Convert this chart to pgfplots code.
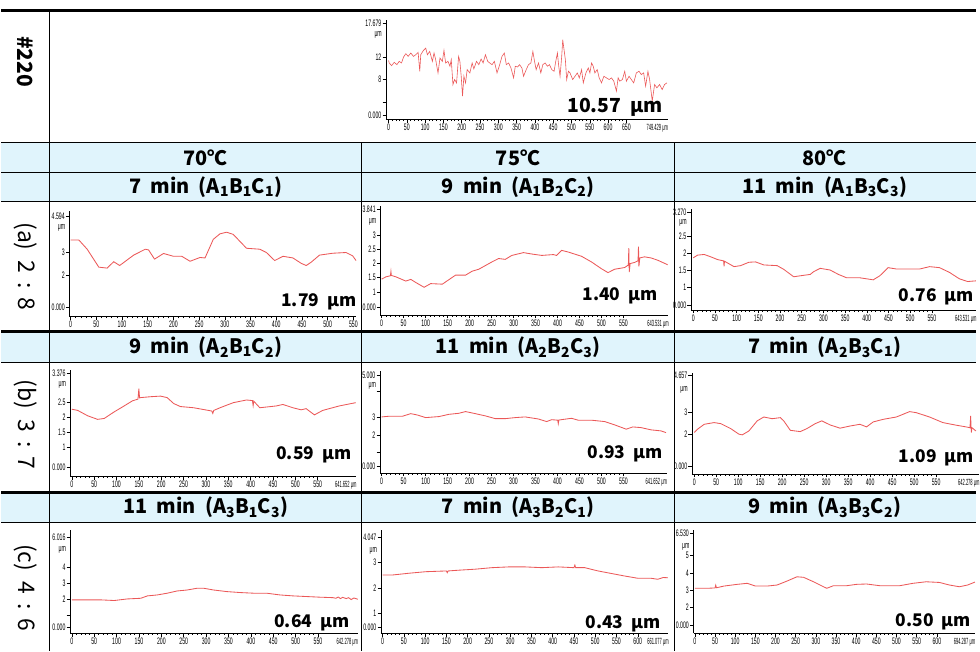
\documentclass[border=0pt]{standalone}
\usepackage{fontspec}
\usepackage{pgfplots}
\pgfplotsset{compat=1.18}
\setmainfont{Noto Sans CJK KR}
\newfontfamily\tickfont[FakeStretch=0.55]{Liberation Sans}
\newfontfamily\endfont[FakeStretch=0.45]{Liberation Sans}
\newcommand\tk{\tickfont\fontsize{9.5}{10}\selectfont}
\newcommand\tke{\endfont\fontsize{9}{10}\selectfont}
\definecolor{hdr}{RGB}{224,244,252}
\definecolor{profred}{RGB}{235,88,88}

\pgfplotsset{
  prof/.style={
    scale only axis, anchor=south west, clip=false,
    axis x line=bottom, axis y line=left,
    axis line style={-, line width=0.6pt, black},
    tick align=outside, major tick length=3.5pt, minor tick length=1.8pt,
    minor x tick num=4, minor y tick num=4,
    tick style={black, line width=0.5pt},
    ticklabel style={font=\tk, inner sep=1pt},
    /pgf/number format/assume math mode=true,
    /pgf/number format/1000 sep={},
  },
  pline/.style={profred, line width=0.85pt, mark=none},
}
\tikzset{
  um/.style={anchor=east, font=\tk, inner sep=1pt, xshift=-3pt},
  xend/.style={anchor=north east, font=\tke, inner sep=0.5pt, yshift=-4.5pt, xshift=1pt},
  val/.style={anchor=east, font=\bfseries\fontsize{17.5}{18}\selectfont, inner sep=0pt},
  hd/.style={font=\bfseries\fontsize{20}{22}\selectfont, inner sep=0pt},
  rl/.style={font=\fontsize{23}{25}\selectfont, inner sep=0pt, rotate=-90},
}
\newcommand\code[3]{(A\textsubscript{#1}B\textsubscript{#2}C\textsubscript{#3})}

\begin{document}
\begin{tikzpicture}
\begin{scope}[x=1pt, y=-1pt]
  \useasboundingbox (0,0) rectangle (980,655);
  \fill[hdr] (0,143.5) rectangle (980,203);
  \fill[hdr] (0,333.5) rectangle (980,364.5);
  \fill[hdr] (0,495.5) rectangle (980,525);
\end{scope}

% #220
\begin{axis}[prof, at={(386.7pt,-120pt)}, width=283.3pt, height=100pt,
  xmin=-7, xmax=763, ymin=0.98, ymax=18.53,
  xtick={0,50,...,650},
  ytick={1.65,4,8,12,17.95}, yticklabels={0.000,,8,12,17.679}]
\addplot[pline, line width=0.6pt] coordinates {(0,11.39) (1.9,10.92) (8.3,10.45) (15.5,11.04) (22.8,10.63) (29.1,11.21) (35.4,10.92) (40.9,11.97) (47.2,12.56) (53.6,12.09) (60.8,12.68) (68.1,12.09) (74.4,12.38) (80.8,12.79) (85.3,9.46) (88.0,12.38) (95.3,13.14) (101.6,13.55) (106.2,12.38) (112.5,12.97) (119.8,11.21) (124.3,12.68) (128.8,11.51) (135.2,9.17) (140.6,11.80) (147.0,11.21) (151.5,13.14) (156.0,10.92) (162.4,11.21) (167.8,10.34) (171.4,11.51) (176.0,7.12) (180.5,8.00) (185.9,7.41) (191.4,12.09) (195.0,11.21) (198.6,8.58) (202.2,5.07) (205.9,8.58) (210.4,7.41) (214.9,9.75) (222.2,9.17) (228.5,10.92) (233.1,9.87) (240.3,11.21) (246.7,10.63) (253.0,11.62) (258.4,10.92) (264.8,12.38) (271.1,11.21) (276.6,10.92) (282.9,10.63) (289.3,11.21) (296.5,9.17) (303.8,10.63) (310.1,12.09) (316.5,12.68) (321.9,10.63) (328.2,10.92) (334.6,10.04) (341.8,8.29) (346.4,10.34) (352.7,10.22) (358.2,10.63) (364.5,10.04) (369.0,8.58) (376.3,9.75) (382.6,10.63) (389.0,10.92) (394.5,12.97) (399.0,11.21) (403.5,9.75) (409.9,10.92) (416.2,9.17) (421.7,10.63) (428.0,10.92) (434.4,10.34) (439.8,10.63) (446.2,9.75) (452.5,9.46) (457.0,11.21) (461.6,12.68) (465.2,10.34) (468.8,8.58) (473.3,12.09) (476.1,15.02) (479.7,13.26) (483.3,11.51) (486.9,8.00) (491.5,9.46) (496.0,9.17) (503.3,8.00) (509.6,8.58) (516.0,9.17) (521.4,8.29) (527.7,9.75) (532.3,7.41) (539.5,9.17) (545.9,10.04) (550.4,9.17) (554.9,10.92) (559.5,10.34) (564.0,9.17) (570.3,9.75) (575.8,8.29) (582.1,7.41) (588.5,8.58) (595.7,8.29) (603.0,8.00) (609.3,8.29) (615.7,7.71) (622.9,5.95) (627.5,8.29) (632.0,7.71) (639.2,8.00) (645.6,9.46) (650.1,7.71) (657.4,8.58) (663.7,8.00) (670.1,7.41) (677.3,9.17) (684.6,9.46) (690.9,8.88) (697.3,9.17) (702.7,6.83) (709.0,9.46) (713.6,8.00) (720.8,4.20) (727.2,7.12) (733.5,6.54) (740.8,7.12) (748.0,6.24) (754.4,7.12) (760.7,7.41)};
\node[um] at (rel axis cs:0,0.85) {μm};
\node[xend] at (rel axis cs:1,0) {749.429 μm};
\end{axis}

% row a
\begin{axis}[prof, at={(68.3pt,-318.3pt)}, width=288.4pt, height=106.6pt,
  xmin=-2.3, xmax=555.5, ymin=0.26, ymax=4.75,
  xtick={0,50,...,550},
  ytick={0.64,2,3,4.5}, yticklabels={0.000,2,3,4.594}]
\addplot[pline] coordinates {(0,3.50) (16.1,3.50) (32.3,3.11) (54.9,2.35) (71.0,2.31) (83.9,2.58) (95.5,2.42) (122.7,2.86) (145.3,3.11) (151.7,3.08) (163.3,2.69) (180.8,2.93) (200.1,2.81) (216.3,2.81) (232.4,2.60) (251.8,2.76) (261.5,2.74) (277.6,3.53) (290.5,3.76) (303.4,3.83) (316.3,3.74) (342.2,3.15) (368.0,3.11) (380.9,2.97) (397.0,2.63) (413.2,2.81) (432.5,2.74) (448.7,2.51) (458.4,2.42) (468.0,2.56) (484.2,2.86) (510.0,2.94) (535.8,2.97) (548.7,2.83) (555.2,2.63)};
\node[um] at (rel axis cs:0,0.84) {μm};
\end{axis}

\begin{axis}[prof, at={(381pt,-316.7pt)}, width=289.7pt, height=110pt,
  xmin=-3, xmax=652, ymin=0.18, ymax=4.06,
  xtick={0,50,...,550},
  ytick={0.45,1,1.5,2,2.5,3,3.94}, yticklabels={0.000,1,1.5,2,2.5,3,3.841}]
\addplot[pline] coordinates {(0,1.45) (9.8,1.53) (20,1.57) (21.1,1.72) (22,1.58) (32.4,1.53) (55.0,1.38) (66.3,1.44) (77.6,1.33) (96.5,1.16) (111.5,1.29) (137.9,1.27) (168.0,1.59) (190.7,1.59) (205.7,1.73) (220.8,1.80) (250.9,2.06) (266.0,2.18) (281.1,2.15) (296.1,2.29) (322.5,2.39) (341.4,2.34) (364.0,2.29) (390.4,2.32) (397.9,2.29) (409.2,2.47) (424.3,2.41) (454.4,2.26) (477.0,2.06) (499.6,1.82) (514.7,1.68) (529.8,1.80) (552.4,1.86) (561,1.95) (562,2.55) (563,1.70) (565,2.00) (575.0,2.04) (583,2.10) (584,2.60) (585,1.90) (587,2.20) (597.6,2.24) (612.7,2.20) (627.7,2.12) (650.3,1.96)};
\node[um] at (rel axis cs:0,0.85) {μm};
\node[xend] at (rel axis cs:1,0) {643.531 μm};
\end{axis}

\begin{axis}[prof, at={(693.3pt,-311.7pt)}, width=286.9pt, height=101.7pt,
  xmin=-5.5, xmax=652, ymin=0.33, ymax=3.32,
  xtick={0,50,...,550},
  ytick={0.46,1,1.5,2,2.5,3.21}, yticklabels={0.000,1,1.5,2,2.5,3.270}]
\addplot[pline] coordinates {(0,1.87) (9.9,1.95) (25.2,1.97) (40.5,1.90) (55.8,1.82) (70,1.78) (71.0,1.62) (72,1.77) (94.0,1.61) (109.2,1.64) (128.3,1.74) (143.6,1.75) (162.7,1.66) (193.3,1.64) (208.6,1.53) (231.5,1.31) (246.8,1.34) (269.7,1.38) (277.3,1.46) (292.6,1.56) (315.5,1.51) (334.6,1.38) (353.7,1.28) (384.3,1.28) (414.8,1.22) (430.1,1.34) (449.2,1.58) (468.3,1.54) (498.9,1.54) (521.8,1.54) (544.7,1.61) (567.6,1.58) (590.5,1.44) (613.4,1.25) (632.5,1.17) (651.6,1.19)};
\node[um] at (rel axis cs:0,0.86) {μm};
\node[xend] at (rel axis cs:1,0) {643.531 μm};
\end{axis}

% row b
\begin{axis}[prof, at={(69pt,-479pt)}, width=287.7pt, height=107.3pt,
  xmin=-3.8, xmax=636, ymin=0.03, ymax=3.61,
  xtick={0,50,...,550},
  ytick={0.33,1,1.5,2,2.5,3.5}, yticklabels={0.000,1,1.5,2,2.5,3.376}]
\addplot[pline] coordinates {(0,2.28) (13.3,2.24) (35.5,2.06) (57.7,1.94) (72.5,1.97) (94.7,2.19) (117.0,2.39) (135.5,2.56) (148,2.62) (150,2.97) (151.5,2.66) (154.0,2.67) (176.2,2.70) (198.4,2.72) (213.2,2.67) (228.0,2.47) (242.8,2.37) (272.4,2.33) (313.1,2.22) (315.3,2.14) (317.5,2.24) (331.6,2.33) (361.2,2.50) (390.8,2.59) (404,2.57) (405.6,2.40) (407,2.55) (420.4,2.33) (457.4,2.39) (472.2,2.44) (494.4,2.33) (512.9,2.26) (524.1,2.30) (542.6,2.09) (561.1,2.24) (598.1,2.39) (635.1,2.50)};
\node[um] at (rel axis cs:0,0.86) {μm};
\node[xend] at (rel axis cs:1,0) {641.652 μm};
\end{axis}

\begin{axis}[prof, at={(380.7pt,-475.7pt)}, width=288.3pt, height=102.4pt,
  xmin=-3.6, xmax=648.2, ymin=-0.21, ymax=5.69,
  xtick={0,50,...,550},
  ytick={0.21,1,2,3,4.5,5.44}, yticklabels={0.000,,2,3,,5.000}]
\addplot[pline] coordinates {(0,3.04) (17.3,3.08) (47.5,3.08) (66.3,3.23) (81.4,3.15) (100.2,3.00) (130.4,3.06) (153.0,3.19) (175.6,3.25) (190.7,3.35) (209.5,3.25) (235.9,3.10) (258.5,2.94) (281.1,2.94) (303.7,3.00) (326.3,3.04) (356.4,2.92) (375.3,2.77) (386.6,2.88) (400.5,2.85) (401.7,2.65) (403,2.86) (431.8,2.96) (446.9,2.85) (477.0,2.85) (507.2,2.77) (529.8,2.58) (556.1,2.33) (571.2,2.46) (590.0,2.42) (612.7,2.29) (635.3,2.23) (646.6,2.13)};
\node[um] at (rel axis cs:0,0.86) {μm};
\node[xend] at (rel axis cs:1,0) {641.652 μm};
\end{axis}

\begin{axis}[prof, at={(694.3pt,-476.7pt)}, width=289pt, height=101.7pt,
  xmin=-5.4, xmax=648, ymin=0.15, ymax=4.85,
  xtick={0,50,...,550},
  ytick={0.49,2,3,4.72}, yticklabels={0.000,2,3,4.657}]
\addplot[pline] coordinates {(0,2.08) (7.5,2.23) (22.6,2.46) (45.2,2.54) (60.3,2.49) (82.9,2.26) (101.7,2.00) (109.3,1.97) (124.3,2.15) (143.2,2.62) (158.2,2.80) (177.1,2.72) (195.9,2.77) (203.5,2.62) (218.5,2.18) (241.1,2.12) (256.2,2.26) (275.1,2.49) (290.1,2.62) (309.0,2.43) (331.6,2.28) (354.2,2.38) (376.8,2.46) (391.9,2.34) (407.0,2.57) (429.5,2.69) (459.7,2.80) (489.8,3.05) (504.9,3.00) (535.0,2.80) (565.2,2.54) (595.3,2.42) (617.9,2.34) (627,2.30) (628.5,2.85) (630,2.08) (631.5,2.30) (640.5,2.15)};
\node[um] at (rel axis cs:0,0.83) {μm};
\node[xend] at (rel axis cs:1,0) {642.278 μm};
\end{axis}

% row c
\begin{axis}[prof, at={(69pt,-636.7pt)}, width=289.3pt, height=103.4pt,
  xmin=-3.8, xmax=638.7, ymin=-0.125, ymax=6.33,
  xtick={0,50,...,550},
  ytick={0.23,1,2,3,4,5.92}, yticklabels={0.000,,2,3,4,6.016}]
\addplot[pline] coordinates {(0,1.96) (28.1,1.96) (65.1,1.96) (94.7,1.92) (124.4,2.02) (154.0,2.06) (168.8,2.21) (191.0,2.27) (213.2,2.38) (235.4,2.52) (257.6,2.58) (279.8,2.69) (294.6,2.69) (316.8,2.58) (346.4,2.48) (376.0,2.42) (405.6,2.38) (435.2,2.38) (464.8,2.27) (494.4,2.21) (524.1,2.17) (553.7,2.13) (583.3,2.10) (590,2.06) (595,2.14) (600,2.04) (605,2.12) (612.9,2.04) (618,2.10) (624,1.98) (630,2.08) (638.8,2.00)};
\node[um] at (rel axis cs:0,0.81) {μm};
\node[xend] at (rel axis cs:1,0) {642.278 μm};
\end{axis}

\begin{axis}[prof, at={(381.7pt,-636.7pt)}, width=289pt, height=103.4pt,
  xmin=-3.7, xmax=672, ymin=0.21, ymax=4.28,
  xtick={0,50,...,600},
  ytick={0.45,1,2,3,4.0}, yticklabels={0.000,1,2,3,4.047}]
\addplot[pline] coordinates {(0,2.51) (23.4,2.51) (62.4,2.58) (101.3,2.64) (150,2.67) (152.0,2.60) (154,2.67) (179.3,2.70) (218.2,2.74) (257.2,2.80) (296.2,2.83) (335.2,2.83) (374.1,2.80) (413.1,2.83) (450,2.80) (452.1,2.90) (454,2.80) (475.4,2.80) (506.6,2.67) (537.8,2.57) (569.0,2.47) (600.2,2.38) (631.3,2.38) (646.9,2.34) (660,2.41) (671,2.40)};
\node[um] at (rel axis cs:0,0.80) {μm};
\node[xend] at (rel axis cs:1,0) {661.077 μm};
\end{axis}

\begin{axis}[prof, at={(696pt,-636.7pt)}, width=283pt, height=103.4pt,
  xmin=-3.2, xmax=694.3, ymin=0.49, ymax=6.48,
  xtick={0,50,...,600},
  ytick={0.93,2,3,4,5,6.3}, yticklabels={0.000,2,3,4,5,6.530}]
\addplot[pline] coordinates {(0,3.10) (31.2,3.10) (50,3.12) (51.8,3.28) (53.5,3.13) (72.3,3.23) (105.2,3.33) (129.8,3.39) (150.4,3.23) (179.1,3.23) (203.8,3.29) (228.4,3.52) (253.1,3.77) (269.5,3.74) (294.2,3.48) (318.8,3.19) (327.0,3.10) (343.5,3.25) (376.3,3.25) (401.0,3.33) (425.6,3.35) (458.5,3.25) (507.8,3.25) (540.7,3.39) (573.5,3.48) (606.4,3.44) (631.1,3.29) (655.7,3.19) (676.2,3.29) (694.3,3.46)};
\node[um] at (rel axis cs:0,0.84) {μm};
\node[xend] at (rel axis cs:1,0) {694.287 μm};
\end{axis}

\begin{scope}[x=1pt, y=-1pt]
  % rules
  \draw[line width=3pt] (0,11) -- (980,11);
  \draw[line width=1.5pt] (0,143.5) -- (980,143.5);
  \draw[line width=0.8pt] (0,173) -- (980,173);
  \draw[line width=0.8pt] (0,203) -- (980,203);
  \draw[line width=3pt] (0,333.5) -- (980,333.5);
  \draw[line width=0.8pt] (0,364.5) -- (980,364.5);
  \draw[line width=3pt] (0,495.5) -- (980,495.5);
  \draw[line width=0.8pt] (0,525) -- (980,525);
  \draw[line width=1pt] (48.5,12) -- (48.5,655);
  \draw[line width=1pt] (362.5,143.5) -- (362.5,655);
  \draw[line width=1pt] (676.5,143.5) -- (676.5,655);
  % row labels
  \node[hd, rotate=-90, font=\bfseries\fontsize{21}{22}\selectfont] at (24,62) {\#220};
  \node[rl] at (24,268) {(a)\ \ 2\ \,:\ \,8};
  \node[rl] at (24,427) {(b)\ \ 3\ \,:\ \,7};
  \node[rl] at (24,591) {(c)\ \ 4\ \,:\ \,6};
  % headers
  \node[hd] at (205.5,158.5) {70℃};
  \node[hd] at (519.5,158.5) {75℃};
  \node[hd] at (828,158.5) {80℃};
  \node[hd] at (205.5,188) {7\ \ min\ \ \code111};
  \node[hd] at (519.5,188) {9\ \ min\ \ \code122};
  \node[hd] at (828,188) {11\ \ min\ \ \code133};
  \node[hd] at (205.5,349.5) {9\ \ min\ \ \code212};
  \node[hd] at (519.5,349.5) {11\ \ min\ \ \code223};
  \node[hd] at (828,349.5) {7\ \ min\ \ \code231};
  \node[hd] at (205.5,510.5) {11\ \ min\ \ \code313};
  \node[hd] at (519.5,510.5) {7\ \ min\ \ \code321};
  \node[hd] at (828,510.5) {9\ \ min\ \ \code332};
  % Ra values
  \node[val, font=\bfseries\fontsize{19.5}{20}\selectfont] at (665,107.5) {10.57\ \ μm};
  \node[val] at (357,303.7) {1.79\ \ μm};
  \node[val] at (660,297.5) {1.40\ \ μm};
  \node[val] at (978,299) {0.76\ \ μm};
  \node[val] at (352,457.5) {0.59\ \ μm};
  \node[val] at (665,456.7) {0.93\ \ μm};
  \node[val] at (978,460) {1.09\ \ μm};
  \node[val] at (350,626.7) {0.64\ \ μm};
  \node[val] at (663,627) {0.43\ \ μm};
  \node[val] at (975,625) {0.50\ \ μm};
\end{scope}
\end{tikzpicture}
\end{document}
